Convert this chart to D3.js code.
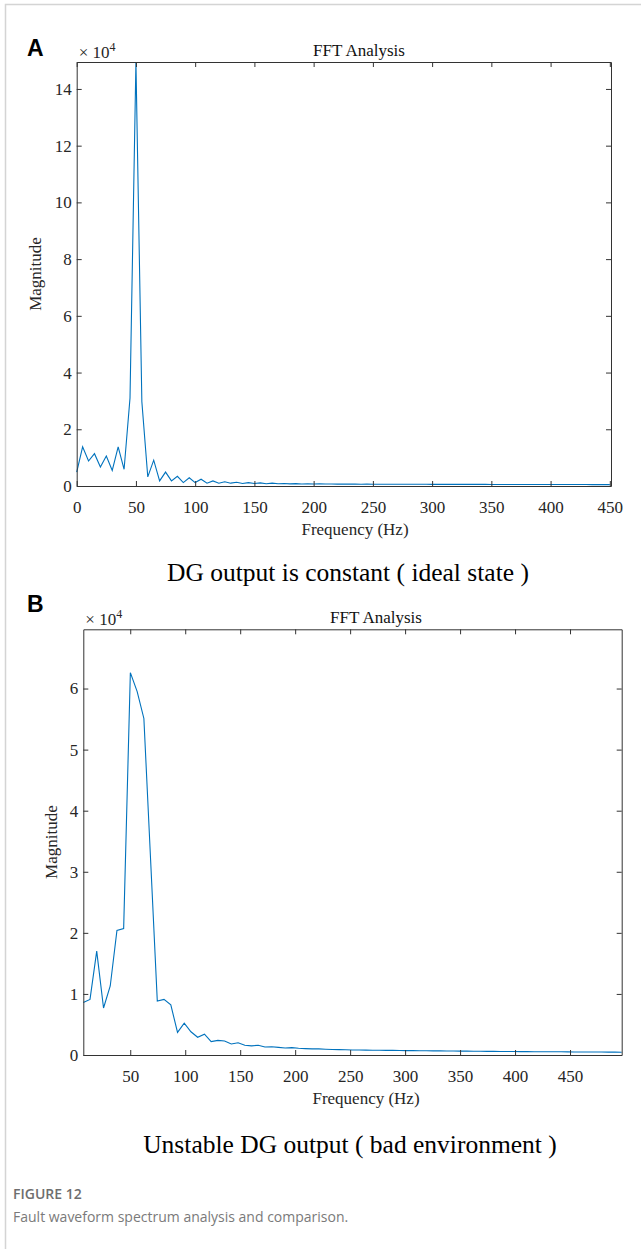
<!DOCTYPE html>
<html>
<head>
<meta charset="utf-8">
<script src="https://cdn.jsdelivr.net/npm/d3@7"></script>
<style>
    body { margin: 0; background: #fff; }
    svg { display: block; }
</style>
</head>
<body>
<div id="fig"></div>
<script>
// panel A: ideal state, bins every 5 Hz from 0 to 450 (magnitudes in units of 1e4)
var freqA = [0, 5, 10, 15, 20, 25, 30, 35, 40, 45, 50, 55, 60, 65, 70, 75, 80, 85, 90, 95,
    100, 105, 110, 115, 120, 125, 130, 135, 140, 145, 150, 155, 160, 165, 170, 175, 180, 185, 190, 195,
    200, 205, 210, 215, 220, 225, 230, 235, 240, 245, 250, 255, 260, 265, 270, 275, 280, 285, 290, 295,
    300, 305, 310, 315, 320, 325, 330, 335, 340, 345, 350, 355, 360, 365, 370, 375, 380, 385, 390, 395,
    400, 405, 410, 415, 420, 425, 430, 435, 440, 445, 450];
var magA = [0.49, 1.38, 0.88, 1.14, 0.67, 1.06, 0.55, 1.38, 0.59, 3.1, 14.95, 2.97, 0.32, 0.91, 0.18, 0.49, 0.18, 0.34, 0.12, 0.29,
    0.12, 0.24, 0.10, 0.18, 0.10, 0.15, 0.10, 0.13, 0.09, 0.12, 0.09, 0.11, 0.08, 0.10, 0.08, 0.09, 0.075, 0.085, 0.07, 0.08,
    0.07, 0.075, 0.068, 0.072, 0.066, 0.07, 0.065, 0.068, 0.064, 0.066, 0.063, 0.064, 0.062, 0.063, 0.061, 0.062, 0.06, 0.061, 0.06, 0.06,
    0.059, 0.059, 0.058, 0.058, 0.057, 0.057, 0.057, 0.056, 0.056, 0.056, 0.055, 0.055, 0.055, 0.054, 0.054, 0.054, 0.053, 0.053, 0.053, 0.052,
    0.052, 0.052, 0.052, 0.051, 0.051, 0.051, 0.051, 0.05, 0.05, 0.05, 0.05];

// panel B: unstable output, bins about 6.12 Hz apart starting at 7.3 Hz
var freqB = [7.3, 13.4, 19.5, 25.7, 31.8, 37.9, 44.0, 50.1, 56.3, 62.4, 68.5, 74.6, 80.7, 86.9, 93.0, 99.1, 105.2, 111.3, 117.5, 123.6,
    129.7, 135.8, 141.9, 148.1, 154.2, 160.3, 166.4, 172.5, 178.7, 184.8, 190.9, 197.0, 203.1, 209.3, 215.4, 221.5, 227.6, 233.7, 239.9, 246.0,
    252.1, 258.2, 264.3, 270.5, 276.6, 282.7, 288.8, 294.9, 301.1, 307.2, 313.3, 319.4, 325.5, 331.7, 337.8, 343.9, 350.0, 356.1, 362.3, 368.4,
    374.5, 380.6, 386.7, 392.9, 399.0, 405.1, 411.2, 417.3, 423.5, 429.6, 435.7, 441.8, 447.9, 454.1, 460.2, 466.3, 472.4, 478.5, 484.7, 490.8, 497.0];
var magB = [0.86, 0.91, 1.70, 0.77, 1.13, 2.04, 2.07, 6.26, 5.95, 5.51, 3.2, 0.885, 0.91, 0.82, 0.37, 0.52, 0.38, 0.29, 0.34, 0.22,
    0.24, 0.23, 0.18, 0.20, 0.16, 0.15, 0.16, 0.13, 0.135, 0.125, 0.115, 0.12, 0.11, 0.105, 0.10, 0.10, 0.095, 0.09, 0.088, 0.085,
    0.083, 0.082, 0.08, 0.079, 0.077, 0.076, 0.075, 0.073, 0.072, 0.071, 0.07, 0.069, 0.068, 0.067, 0.066, 0.065, 0.064, 0.063, 0.062, 0.061,
    0.06, 0.059, 0.058, 0.057, 0.057, 0.056, 0.055, 0.054, 0.054, 0.053, 0.052, 0.052, 0.051, 0.05, 0.05, 0.049, 0.048, 0.048, 0.047, 0.047, 0.046];

var xTicksA = [0, 50, 100, 150, 200, 250, 300, 350, 400, 450];
var yTicksA = [0, 2, 4, 6, 8, 10, 12, 14];
var xTicksB = [50, 100, 150, 200, 250, 300, 350, 400, 450];
var yTicksB = [0, 1, 2, 3, 4, 5, 6];

var SERIF = "'Liberation Serif', 'Times New Roman', serif";
var AXIS_COLOR = '#333333';
var LINE_COLOR = '#0072BD';

var svg = d3.select('#fig').append('svg')
    .attr('width', 641)
    .attr('height', 1249);

// faint frame around the figure
svg.append('rect')
    .attr('x', 5.5)
    .attr('y', 4.5)
    .attr('width', 700)
    .attr('height', 1300)
    .attr('fill', 'none')
    .attr('stroke', '#d4d4d4')
    .attr('stroke-width', 1.5);

function drawPanel(p) {
    var x = d3.scaleLinear().domain(p.xDomain).range([p.left, p.right]);
    var y = d3.scaleLinear().domain(p.yDomain).range([p.bottom, p.top]);
    var fmt = d3.format('d');
    var g = svg.append('g');

    g.append('text')
        .attr('x', p.letterX)
        .attr('y', p.letterY)
        .style('font-family', "'Liberation Sans', Arial, sans-serif")
        .style('font-weight', 'bold')
        .style('font-size', '23px')
        .text(p.letter);

    var line = d3.line()
        .x(function (d) { return x(d[0]); })
        .y(function (d) { return y(d[1]); });
    g.append('path')
        .datum(d3.zip(p.freq, p.mag))
        .attr('fill', 'none')
        .attr('stroke', LINE_COLOR)
        .attr('stroke-width', 1.1)
        .attr('d', line);

    // MATLAB style box, ticks pointing inward on all four sides
    g.append('g')
        .attr('transform', 'translate(0,' + p.bottom + ')')
        .call(d3.axisBottom(x).tickValues(p.xTicks).tickFormat(fmt).tickSize(-5).tickSizeOuter(0).tickPadding(15));
    g.append('g')
        .attr('transform', 'translate(0,' + p.top + ')')
        .call(d3.axisTop(x).tickValues(p.xTicks).tickSize(-5).tickSizeOuter(0).tickFormat(''));
    g.append('g')
        .attr('transform', 'translate(' + p.left + ',0)')
        .call(d3.axisLeft(y).tickValues(p.yTicks).tickFormat(fmt).tickSize(-5).tickSizeOuter(0).tickPadding(5));
    g.append('g')
        .attr('transform', 'translate(' + p.right + ',0)')
        .call(d3.axisRight(y).tickValues(p.yTicks).tickSize(-5).tickSizeOuter(0).tickFormat(''));

    g.selectAll('.domain, .tick line')
        .attr('stroke', AXIS_COLOR);
    g.selectAll('.tick text')
        .attr('fill', '#262626')
        .style('font-family', SERIF)
        .style('font-size', '17px');

    var expo = g.append('text')
        .attr('x', p.left + 2)
        .attr('y', p.top - 4)
        .attr('fill', '#262626')
        .style('font-family', SERIF)
        .style('font-size', '17px');
    expo.append('tspan').text('\u00d7 10');
    expo.append('tspan')
        .attr('dy', -7)
        .style('font-size', '12px')
        .text('4');

    g.append('text')
        .attr('x', p.titleX)
        .attr('y', p.top - 6)
        .attr('text-anchor', 'middle')
        .attr('fill', '#111')
        .style('font-family', SERIF)
        .style('font-size', '17px')
        .text('FFT Analysis');

    g.append('text')
        .attr('x', p.xLabelX)
        .attr('y', p.bottom + 49)
        .attr('text-anchor', 'middle')
        .attr('fill', '#262626')
        .style('font-family', SERIF)
        .style('font-size', '17px')
        .text('Frequency (Hz)');

    g.append('text')
        .attr('transform', 'translate(' + p.yLabelX + ',' + ((p.top + p.bottom) / 2) + ') rotate(-90)')
        .attr('text-anchor', 'middle')
        .attr('fill', '#262626')
        .style('font-family', SERIF)
        .style('font-size', '17px')
        .text('Magnitude');

    g.append('text')
        .attr('x', p.captionX)
        .attr('y', p.captionY)
        .attr('text-anchor', 'middle')
        .attr('fill', '#000')
        .style('font-family', SERIF)
        .style('font-size', '25.5px')
        .text(p.caption);
}

drawPanel({
    letter: 'A', letterX: 27, letterY: 56,
    left: 76.7, right: 611, top: 62, bottom: 486,
    xDomain: [0, 451], yDomain: [0, 14.95],
    xTicks: xTicksA, yTicks: yTicksA,
    freq: freqA, mag: magA,
    titleX: 359, xLabelX: 355, yLabelX: 41,
    caption: 'DG output is constant ( ideal state )', captionX: 348, captionY: 581
});

drawPanel({
    letter: 'B', letterX: 27, letterY: 612,
    left: 83.3, right: 621.7, top: 629.3, bottom: 1055,
    xDomain: [7.3, 497], yDomain: [0, 6.97],
    xTicks: xTicksB, yTicks: yTicksB,
    freq: freqB, mag: magB,
    titleX: 376, xLabelX: 366, yLabelX: 57,
    caption: 'Unstable DG output ( bad environment )', captionX: 350, captionY: 1153
});

svg.append('text')
    .attr('x', 13)
    .attr('y', 1199)
    .attr('fill', '#6e6e6e')
    .style('font-family', "'Open Sans', 'Noto Sans', sans-serif")
    .style('font-weight', 600)
    .style('font-size', '14px')
    .text('FIGURE 12');

svg.append('text')
    .attr('x', 13)
    .attr('y', 1222)
    .attr('fill', '#7a7a7a')
    .style('font-family', "'Open Sans', 'Noto Sans', sans-serif")
    .style('font-size', '14px')
    .text('Fault waveform spectrum analysis and comparison.');
</script>
</body>
</html>
